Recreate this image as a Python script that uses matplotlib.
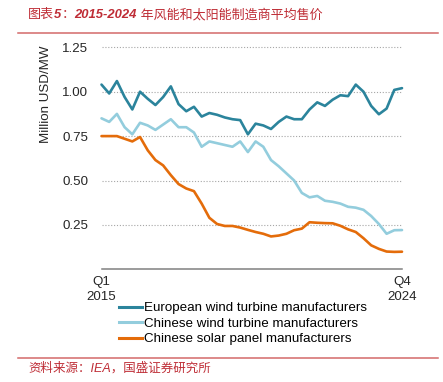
import matplotlib
matplotlib.use("Agg")
import matplotlib.pyplot as plt
from matplotlib.lines import Line2D

# ---- data (Q1 2015 .. Q4 2024, quarterly, million USD/MW) ----
european_wind = [1.04, 0.99, 1.06, 0.97, 0.90, 1.00, 0.96, 0.925, 0.97, 1.03,
                 0.93, 0.89, 0.915, 0.86, 0.88, 0.87, 0.855, 0.845, 0.84, 0.76,
                 0.82, 0.81, 0.79, 0.83, 0.86, 0.845, 0.845, 0.90, 0.94, 0.92,
                 0.955, 0.98, 0.975, 1.04, 1.00, 0.92, 0.873, 0.905, 1.01, 1.02]
chinese_wind = [0.85, 0.83, 0.875, 0.80, 0.76, 0.825, 0.81, 0.785, 0.815, 0.845,
                0.80, 0.80, 0.77, 0.69, 0.72, 0.71, 0.70, 0.69, 0.72, 0.66,
                0.72, 0.69, 0.615, 0.58, 0.54, 0.50, 0.43, 0.405, 0.413, 0.386,
                0.38, 0.37, 0.352, 0.347, 0.335, 0.30, 0.255, 0.20, 0.22, 0.221]
chinese_solar = [0.75, 0.75, 0.75, 0.735, 0.72, 0.745, 0.67, 0.615, 0.585, 0.53,
                 0.48, 0.455, 0.44, 0.37, 0.29, 0.255, 0.244, 0.244, 0.235, 0.222,
                 0.21, 0.20, 0.185, 0.19, 0.20, 0.22, 0.229, 0.265, 0.262, 0.26,
                 0.259, 0.245, 0.225, 0.21, 0.175, 0.135, 0.115, 0.10, 0.098, 0.099]
series_labels = ["European wind turbine manufacturers",
                 "Chinese wind turbine manufacturers",
                 "Chinese solar panel manufacturers"]
x_tick_labels = ["Q1\n2015", "Q4\n2024"]
y_ticks = [0.25, 0.50, 0.75, 1.00, 1.25]
title_text = "图表5：2015-2024 年风能和太阳能制造商平均售价"
source_text = "资料来源：IEA，国盛证券研究所"

colors = ["#2b849c", "#93cddd", "#e46c0a"]
red = "#bf2d36"
line_red = "#d36a6a"

plt.rcParams["font.family"] = ["Liberation Sans", "Noto Sans CJK SC", "DejaVu Sans"]

W, H = 443, 382
fig = plt.figure(figsize=(W / 100, H / 100), dpi=100)

ymax = 1.27
ax = fig.add_axes([101.5 / W, 1 - 269.3 / H, 300.5 / W, ymax * 177.6 / H])
xs = list(range(len(european_wind)))
for vals, c, lab in zip([european_wind, chinese_wind, chinese_solar], colors, series_labels):
    ax.plot(xs, vals, color=c, lw=1.9, solid_joinstyle="round", solid_capstyle="round",
            label=lab, clip_on=False)

ax.set_xlim(0, len(xs) - 1)
ax.set_ylim(0, ymax)
ax.set_yticks(y_ticks)
ax.set_yticklabels([f"{v:.2f}" for v in y_ticks])
ax.set_xticks([0, len(xs) - 1])
ax.set_xticklabels(x_tick_labels, linespacing=1.4)
ax.tick_params(axis="y", length=0, pad=9.5, labelsize=9.6, labelcolor="#262626")
ax.tick_params(axis="x", length=0, pad=4.5, labelsize=9.6, labelcolor="#262626")
ax.yaxis.grid(True, linestyle=(0, (1, 1.6)), color="#a6a6a6", lw=0.8)
ax.set_axisbelow(True)
for s in ["top", "right", "left"]:
    ax.spines[s].set_visible(False)
ax.spines["bottom"].set_color("#808080")
ax.spines["bottom"].set_linewidth(1.1)

fig.text(46 / W, 1 - 94 / H, "Million USD/MW", rotation=90, ha="center", va="center",
         fontsize=9.6, color="#262626")

handles = [Line2D([], [], color=c, lw=2.2) for c in colors]
fig.legend(handles, series_labels, loc="upper left", bbox_to_anchor=(119 / W, 1 - 302 / H),
           frameon=False, fontsize=9.6, handlelength=1.75, handletextpad=0.15,
           labelspacing=0.24, borderpad=0, borderaxespad=0)

# rules
fig.add_artist(Line2D([18 / W, 438 / W], [1 - 33 / H, 1 - 33 / H], color=line_red, lw=1.1))
fig.add_artist(Line2D([18 / W, 438 / W], [1 - 358 / H, 1 - 358 / H], color=line_red, lw=1.1))

# title in pieces (Latin bold italic, CJK regular)
renderer = fig.canvas.get_renderer()
pieces = [("图表", {}), ("5", {"weight": "bold"}), ("：", {}),
          ("2015-2024", {"weight": "bold"}), (" 年风能和太阳能制造商平均售价", {})]
x = 28 / W
for txt, kw in pieces:
    t = fig.text(x, 1 - 15 / H, txt, fontsize=9.4, color=red, style="italic",
                 va="center", ha="left", **kw)
    bb = t.get_window_extent(renderer)
    x += bb.width / fig.bbox.width

fig.text(28 / W, 1 - 368 / H, source_text, fontsize=9.0, color=red, style="italic",
         va="center", ha="left")

fig.savefig("out.png", dpi=100)
